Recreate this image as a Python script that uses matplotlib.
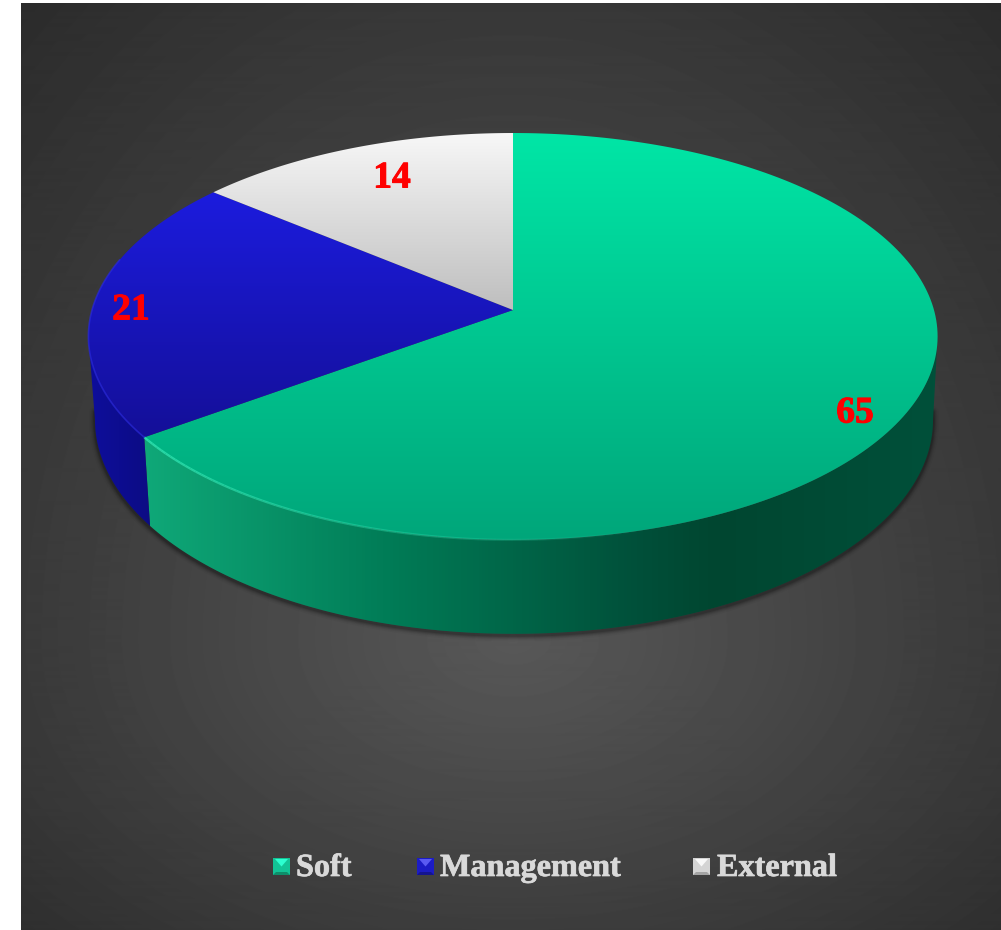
import numpy as np
import matplotlib
matplotlib.use('Agg')
import matplotlib.pyplot as plt
import matplotlib.patheffects as pe
from matplotlib.colors import LinearSegmentedColormap
from matplotlib.patches import Polygon

names = ['Soft', 'Management', 'External']
values = [65, 21, 14]
label_x = [855, 131, 392]
label_y = [413, 310, 178]

top_colors = [('#00E6A6', '#00A67A'), ('#1C1CDE', '#140F98'), ('#F7F7F7', '#BEBEBE')]
side_stops = [
    [(0.0, '#0FA878'), (0.32, '#007A55'), (0.62, '#00503A'), (0.72, '#004630'), (1.0, '#00503A')],
    [(0.0, '#0E0E9C'), (1.0, '#0C0C84')],
]
key_colors = [('#2CFFD0', '#12C496', '#0E8E6A'), ('#5A5AF2', '#1C1CC4', '#141490'),
              ('#F8F8F8', '#D4D4D4', '#A4A4A4')]
legend_box_x = [273, 417, 693]
legend_text_x = [296, 440, 717]

# top face and lower rim of the disc, both seen through the same perspective
persp = 0.13
top_rim = dict(a=421, b=200, x0=513, y0=310)
low_rim = dict(a=415.5, b=210.4, x0=514, y0=392)


def project(theta, rim):
    # theta in degrees, clockwise from the back of the disc
    t = np.radians(theta)
    u, v = np.sin(t), np.cos(t)
    w = 1 + persp * v
    return rim['x0'] + rim['a'] * u / w, rim['y0'] - rim['b'] * v / w


def grad_fill(ax, verts, colors, vertical=True):
    verts = np.asarray(verts)
    x0, x1 = verts[:, 0].min(), verts[:, 0].max()
    y0, y1 = verts[:, 1].min(), verts[:, 1].max()
    cmap = LinearSegmentedColormap.from_list('g', colors)
    ramp = np.linspace(0, 1, 256)
    ramp = ramp[:, None] if vertical else ramp[None, :]
    im = ax.imshow(ramp, cmap=cmap, extent=(x0, x1, y1, y0), origin='upper',
                   aspect='auto', vmin=0, vmax=1, interpolation='bilinear', zorder=3)
    patch = Polygon(verts, closed=True, transform=ax.transData, fc='none', ec='none')
    ax.add_patch(patch)
    im.set_clip_path(patch)
    return im


fig = plt.figure(figsize=(10.01, 9.3), dpi=100, facecolor='white')
ax = fig.add_axes([0, 0, 1, 1])
ax.axis('off')

# dark backdrop with a soft glow below the disc
xx, yy = np.meshgrid(np.arange(21, 1001), np.arange(4, 930))
ry = np.where(yy > 640, 330.0, 620.0)
r = np.sqrt(((xx - 513) / 500.0) ** 2 + ((yy - 640) / ry) ** 2)
shade = np.clip(0x58 - 31 * r, 0x28, 0x58) / 255.0
ax.imshow(shade, cmap='gray', vmin=0, vmax=1, extent=(21, 1001, 930, 4),
          origin='upper', aspect='auto', zorder=0)

# wedge boundaries from the values
total = float(sum(values))
edges = np.concatenate([[0], np.cumsum(values)]) * 360.0 / total

# contact shadow under the disc
sx, sy = project(np.linspace(95, 265, 200), low_rim)
for lw, al in zip([12, 9, 7, 5, 3], [0.03, 0.05, 0.07, 0.1, 0.14]):
    ax.plot(sx, sy + 1.5, color='black', lw=lw * 0.72, alpha=al, zorder=1,
            solid_capstyle='round')

# outer wall, only the part facing the viewer
wall_limit = np.degrees(np.arccos(-persp))
wall_ranges = [(wall_limit, edges[1]), (edges[1], 360 - wall_limit)]
for (a0, a1), stops in zip(wall_ranges, side_stops):
    th = np.linspace(a0, a1, 150)
    tx, ty = project(th, top_rim)
    bx, by = project(th[::-1], low_rim)
    verts = np.column_stack([np.r_[tx, bx], np.r_[ty, by]])
    grad_fill(ax, verts, stops, vertical=False)

# top faces
for i, colors in enumerate(top_colors):
    th = np.linspace(edges[i], edges[i + 1], 200)
    tx, ty = project(th, top_rim)
    verts = np.column_stack([np.r_[top_rim['x0'], tx], np.r_[top_rim['y0'], ty]])
    grad_fill(ax, verts, colors)

# bevel along the front of the rim, fading out towards the right
bevel = np.linspace(edges[1], 165, 70)
for k in range(len(bevel) - 1):
    bx, by = project(bevel[k:k + 2], top_rim)
    ax.plot(bx, by, color='#30E8B4', lw=1.6, alpha=0.8 * (1 - k / 70.0), zorder=4,
            solid_capstyle='butt')
bx, by = project(np.linspace(edges[1], 285, 50), top_rim)
ax.plot(bx, by, color='#2A2AE8', lw=1.2, alpha=0.6, zorder=4)

for x, y, v in zip(label_x, label_y, values):
    ax.text(x, y, str(v), color='#FF0000', fontsize=27, fontweight='bold',
            family='Liberation Serif', ha='center', va='center', zorder=6,
            path_effects=[pe.withStroke(linewidth=0.7, foreground='#FF0000')])

# legend keys are small pyramids
box = 17
key_y = 858
for bx0, tx0, name, (hi, mid, lo) in zip(legend_box_x, legend_text_x, names, key_colors):
    cx, cy = bx0 + box / 2, key_y + box / 2
    ax.fill([bx0, bx0 + box, bx0 + box, bx0], [key_y, key_y, key_y + box, key_y + box],
            color=mid, lw=0, zorder=5)
    ax.fill([bx0 + 2, bx0 + box - 2, cx], [key_y + 1, key_y + 1, cy], color=hi, lw=0, zorder=5)
    ax.fill([bx0, bx0 + box, bx0 + box - 3, bx0 + 3],
            [key_y + box, key_y + box, key_y + box - 3, key_y + box - 3],
            color=lo, lw=0, zorder=5)
    ax.text(tx0, 876, name, color='#D9D9D9', fontsize=23.2, fontweight='bold',
            family='Liberation Serif', ha='left', va='baseline', zorder=6,
            path_effects=[pe.withStroke(linewidth=0.5, foreground='#D9D9D9')])

ax.set_xlim(0, 1001)
ax.set_ylim(930, 0)

fig.savefig('out.png', dpi=100, facecolor='white')
